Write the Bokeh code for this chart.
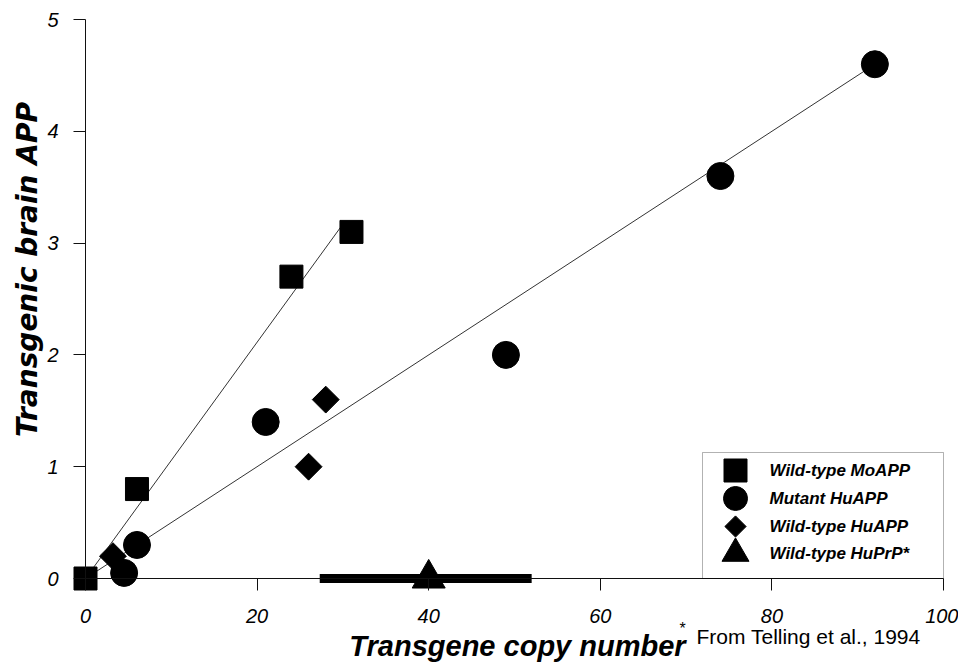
import math
from bokeh.plotting import figure
from bokeh.models import Range1d, FixedTicker, Label, BoxAnnotation
from bokeh.core.properties import value
from bokeh.embed import file_html
from bokeh.resources import INLINE

# ---------------- data ----------------
mo_copy = [0, 6, 24, 31]                  # Wild-type MoAPP
mo_app = [0, 0.8, 2.7, 3.1]
mut_copy = [4.5, 6, 21, 49, 74, 92]       # Mutant HuAPP
mut_app = [0.05, 0.3, 1.4, 2.0, 3.6, 4.6]
wthu_copy = [3.2, 26, 28]                 # Wild-type HuAPP
wthu_app = [0.2, 1.0, 1.6]
prp_copy = [40]                           # Wild-type HuPrP*
prp_app = [0]
prp_lo = [27.3]
prp_hi = [52.0]

mo_fit_x = [0, 30]
mo_fit_y = [0, 3.17]
mut_fit_x = [0, 92]
mut_fit_y = [0, 4.6]

x_ticks = [0, 20, 40, 60, 80, 100]
y_ticks = [0, 1, 2, 3, 4, 5]
legend_labels = ["Wild-type MoAPP", "Mutant HuAPP", "Wild-type HuAPP", "Wild-type HuPrP*"]

# ---------------- layout (canvas pixels) ----------------
W, H = 958, 664
X0_PX, X_PER = 85.0, 8.58     # canvas x of copy=0, px per copy
Y0_PX, Y_PER = 578.0, 111.8   # canvas y of APP=0, px per unit


def dx(px):
    return (px - X0_PX) / X_PER


def dy(py):
    return (Y0_PX - py) / Y_PER


p = figure(
    frame_width=W, frame_height=H,
    min_border_left=0, min_border_right=0, min_border_top=0, min_border_bottom=0,
    x_range=Range1d(dx(0), dx(W)), y_range=Range1d(dy(H), dy(0)),
    output_backend="svg", toolbar_location=None, title=None,
)
p.outline_line_color = None
p.grid.visible = False
p.background_fill_color = "white"
p.border_fill_color = "white"

# axes through the origin
for ax, ticks, bnds in ((p.xaxis[0], x_ticks, (0, 100)), (p.yaxis[0], y_ticks, (0, 5))):
    ax.fixed_location = 0
    ax.bounds = bnds
    ax.ticker = FixedTicker(ticks=ticks)
    ax.axis_line_color = "#111111"
    ax.axis_line_width = 1
    ax.major_tick_line_color = "#111111"
    ax.major_tick_out = 12
    ax.major_tick_in = 0
    ax.minor_tick_line_color = None
    ax.major_label_text_font = "Liberation Sans"
    ax.major_label_text_font_style = "italic"
    ax.major_label_text_font_size = "20px"
    ax.major_label_text_color = "black"
p.xaxis[0].major_label_standoff = 18
p.yaxis[0].major_label_standoff = 15

# fit lines
p.line(mo_fit_x, mo_fit_y, line_color="#333333", line_width=1)
p.line(mut_fit_x, mut_fit_y, line_color="#333333", line_width=1)

# HuPrP range bar
p.segment(x0=prp_lo, y0=prp_app, x1=prp_hi, y1=prp_app, line_color="black", line_width=9)

# markers
p.scatter(mo_copy, mo_app, marker="square", size=23, fill_color="black", line_color="black")
p.scatter(mut_copy, mut_app, marker="circle", size=27, fill_color="black", line_color="black")
p.scatter(wthu_copy, wthu_app, marker="square", size=19, angle=math.pi / 4,
          fill_color="black", line_color="black")
p.scatter(prp_copy, prp_app, marker="triangle", size=33, fill_color="black", line_color="black")

# legend (drawn by hand so the symbols keep their size)
leg_rows_px = [470, 498, 526, 553]
leg_y = [dy(v) for v in leg_rows_px]
leg_mx = dx(735)
leg_tx = dx(769)
p.add_layout(BoxAnnotation(left=dx(702), right=100, bottom=0, top=dy(452),
                           fill_alpha=0, line_color="black", line_width=1))
p.scatter([leg_mx], [leg_y[0]], marker="square", size=23, fill_color="black", line_color="black")
p.scatter([leg_mx], [leg_y[1]], marker="circle", size=24, fill_color="black", line_color="black")
p.scatter([leg_mx], [leg_y[2]], marker="square", size=15, angle=math.pi / 4,
          fill_color="black", line_color="black")
p.scatter([leg_mx], [leg_y[3]], marker="triangle", size=27, fill_color="black", line_color="black")
p.text(x=[leg_tx] * 4, y=leg_y, text=legend_labels,
       text_font=value("Liberation Sans"), text_font_style="bold italic",
       text_font_size="17px", text_baseline="middle", text_align="left", text_color="black")

# axis titles and footnote
p.add_layout(Label(x=dx(27), y=dy(269), text="Transgenic brain APP", angle=math.pi / 2,
                   text_font="DejaVu Sans", text_font_style="bold italic", text_font_size="28px",
                   text_align="center", text_baseline="middle", text_color="black"))
p.add_layout(Label(x=dx(517), y=dy(645), text="Transgene copy number",
                   text_font="Liberation Sans", text_font_style="bold italic", text_font_size="29px",
                   text_align="center", text_baseline="middle", text_color="black"))
p.add_layout(Label(x=dx(679), y=dy(628), text="*",
                   text_font="Liberation Sans", text_font_size="16px",
                   text_align="left", text_baseline="middle", text_color="black"))
p.add_layout(Label(x=dx(696), y=dy(636), text="From Telling et al., 1994",
                   text_font="Liberation Sans", text_font_size="21px",
                   text_align="left", text_baseline="middle", text_color="black"))

open("out.html", "w").write(file_html(p, INLINE))
